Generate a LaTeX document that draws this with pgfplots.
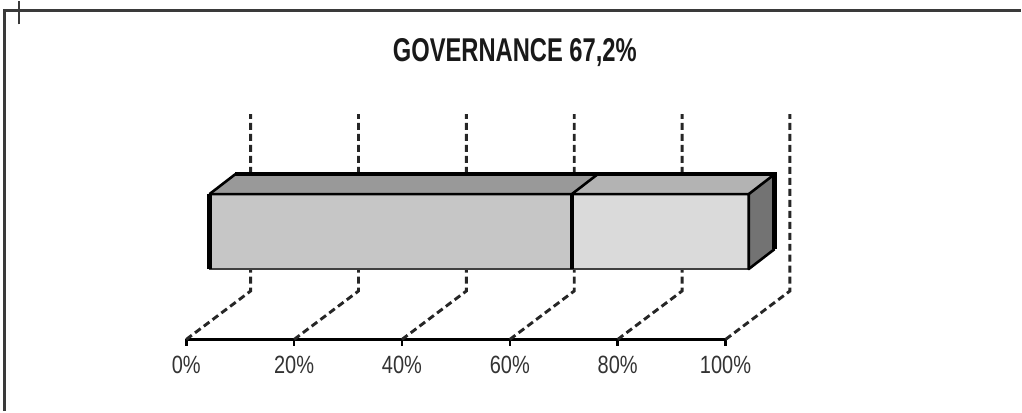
\documentclass[border=0pt]{standalone}
\usepackage{fontspec}
\setmainfont{Liberation Sans}
\newfontfamily\titlefont{Liberation Sans}[FakeStretch=0.72]
\newfontfamily\tickfont{Liberation Sans}[FakeStretch=0.8]
\usepackage{pgfplots}
\pgfplotsset{compat=1.18}

\definecolor{framec}{HTML}{3A3A3A}
\definecolor{gridc}{HTML}{262626}
\definecolor{frontA}{HTML}{C6C6C6}
\definecolor{topA}{HTML}{999999}
\definecolor{frontB}{HTML}{DADADA}
\definecolor{topB}{HTML}{B3B3B3}
\definecolor{sideB}{HTML}{737373}

\begin{document}
\begin{tikzpicture}
\begin{axis}[
  x=2.7pt, y=0.5pt,
  xmin=0, xmax=100, ymin=71.5, ymax=410,
  axis x line*=bottom, axis y line=none,
  x axis line style={-, line width=1.3pt, black},
  xtick={0,20,...,100},
  xticklabels={0\%,20\%,40\%,60\%,80\%,100\%},
  tick align=outside, major tick length=3.2pt,
  xtick style={line width=1.3pt, black},
  xticklabel style={font=\tickfont\fontsize{12.5}{14}\selectfont, text=black!80, yshift=-1.5pt},
  clip=false,
  barpart/.style={x filter/.expression={x+4.3}},
  grid3d/.style={gridc, line width=1.45pt, dash pattern=on 3.5pt off 2pt},
]

% page extent
\addplot[draw=none] coordinates {(-34.537,0) (154.72,410)};

% outer frame
\addplot[framec, line width=1.4pt] coordinates {(-33.74,0) (-33.74,401) (154.72,401)};
\addplot[framec, line width=1.4pt] coordinates {(-31.02,387) (-31.02,410)};

% receding grid lines (floor diagonal, then back wall)
\addplot[grid3d] coordinates {(0,71.5)   (11.94,120)  (11.94,297)};
\addplot[grid3d] coordinates {(20,71.5)  (31.94,120)  (31.94,297)};
\addplot[grid3d] coordinates {(40,71.5)  (51.94,120)  (51.94,297)};
\addplot[grid3d] coordinates {(60,71.5)  (71.94,120)  (71.94,297)};
\addplot[grid3d] coordinates {(80,71.5)  (91.94,120)  (91.94,297)};
\addplot[grid3d] coordinates {(100,71.5) (111.94,120) (111.94,297)};

% stacked 3D bar: 67.2 and the remaining 32.8
\addplot[barpart, fill=frontA, draw=none] coordinates {(0,142) (67.2,142) (67.2,217) (0,217)} -- cycle;
\addplot[barpart, fill=frontB, draw=none] coordinates {(67.2,142) (100,142) (100,217) (67.2,217)} -- cycle;
\addplot[barpart, fill=topA, draw=none] coordinates {(0,217) (67.2,217) (72.01,237) (4.81,237)} -- cycle;
\addplot[barpart, fill=topB, draw=none] coordinates {(67.2,217) (100,217) (104.81,237) (72.01,237)} -- cycle;
\addplot[barpart, fill=sideB, draw=none] coordinates {(100,142) (104.81,162) (104.81,237) (100,217)} -- cycle;

% edges
\addplot[barpart, black!75, line width=0.8pt] coordinates {(0,142) (100,142)};
\addplot[barpart, black, line width=1.3pt, line join=round] coordinates {(0,217) (100,217) (100,142) (104.81,162)};
\addplot[barpart, black, line width=1.3pt] coordinates {(0,217) (4.81,237)};
\addplot[barpart, black, line width=1.3pt] coordinates {(67.2,217) (72.01,237)};
\addplot[barpart, black, line width=1.3pt] coordinates {(100,217) (104.81,237)};
\addplot[barpart, black, line width=2.3pt] coordinates {(0,142) (0,217)};
\addplot[barpart, black, line width=2.3pt] coordinates {(4.81,237) (104.81,237) (104.81,162)};
\addplot[barpart, black, line width=1.9pt] coordinates {(67.2,142) (67.2,217)};

\node[anchor=base, text=black!90, font=\titlefont\bfseries\fontsize{16.5}{18}\selectfont]
  at (axis cs:60.93,350) {GOVERNANCE 67,2\%};
\end{axis}
\end{tikzpicture}
\end{document}
